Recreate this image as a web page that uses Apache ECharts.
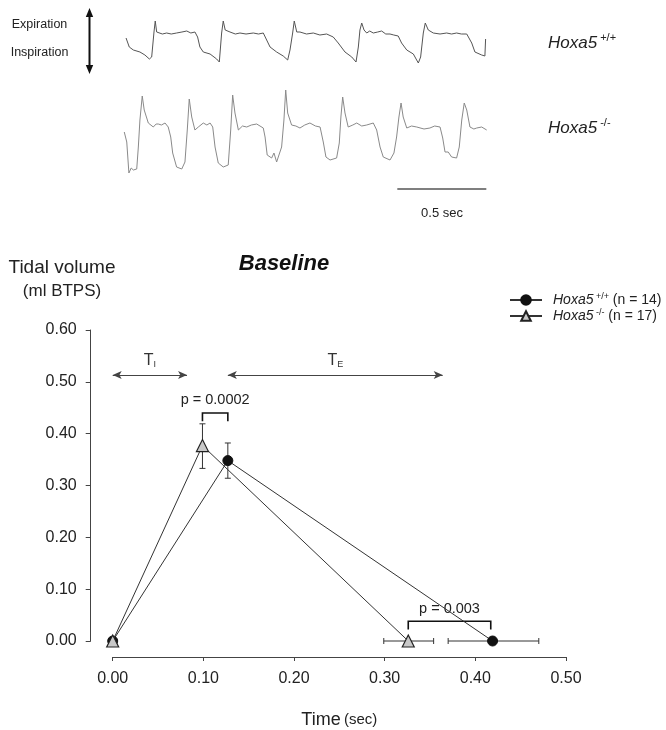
<!DOCTYPE html>
<html>
<head>
<meta charset="utf-8">
<script src="https://cdn.jsdelivr.net/npm/echarts@6/dist/echarts.min.js"></script>
<style>
  html, body { margin: 0; padding: 0; background: #fff; }
  #chart { width: 666px; height: 730px; }
</style>
</head>
<body>
<div id="chart"></div>
<script>
// plethysmograph traces, [time (s), amplitude (a.u.)]
const WT_TRACE = [
  [0.006, 172], [0.024, 163], [0.047, 160], [0.084, 158], [0.112, 155], [0.137, 151], [0.150, 153],
  [0.163, 178], [0.170, 189], [0.178, 178], [0.187, 177], [0.21, 176], [0.234, 177], [0.26, 176],
  [0.290, 177], [0.32, 178], [0.347, 179], [0.37, 177], [0.393, 178], [0.408, 173], [0.421, 163],
  [0.440, 158], [0.478, 156], [0.515, 151], [0.530, 148], [0.543, 177], [0.552, 189], [0.563, 180],
  [0.590, 178], [0.62, 176], [0.646, 177], [0.68, 176], [0.721, 177], [0.75, 176], [0.777, 177],
  [0.796, 170], [0.815, 163], [0.852, 158], [0.889, 154], [0.914, 150], [0.927, 160], [0.942, 177],
  [0.951, 189], [0.965, 178], [0.983, 178], [1.02, 176], [1.058, 177], [1.095, 175], [1.133, 176],
  [1.170, 173], [1.198, 167], [1.236, 158], [1.274, 153], [1.298, 148], [1.311, 163], [1.320, 180],
  [1.330, 187], [1.343, 180], [1.358, 177], [1.375, 179], [1.395, 177], [1.42, 178], [1.442, 179],
  [1.465, 176], [1.489, 176], [1.51, 175], [1.535, 174], [1.554, 167], [1.583, 160], [1.620, 156],
  [1.648, 147], [1.661, 153], [1.676, 177], [1.687, 187], [1.704, 180], [1.732, 177], [1.77, 176],
  [1.807, 177], [1.835, 176], [1.863, 177], [1.89, 176], [1.920, 176], [1.948, 167], [1.966, 158],
  [2.004, 155], [2.022, 154], [2.026, 171]
]
const KO_TRACE = [
  [-0.004, 78], [0.010, 68], [0.022, 37], [0.035, 42], [0.047, 40], [0.066, 41], [0.075, 63],
  [0.084, 90], [0.097, 114], [0.108, 100], [0.131, 87], [0.159, 83], [0.175, 86], [0.187, 86],
  [0.205, 85], [0.225, 87], [0.243, 83], [0.257, 73], [0.268, 57], [0.290, 43], [0.319, 41],
  [0.337, 48], [0.350, 80], [0.361, 111], [0.375, 93], [0.393, 80], [0.412, 83], [0.440, 87],
  [0.46, 85], [0.478, 87], [0.493, 83], [0.506, 63], [0.524, 47], [0.552, 43], [0.580, 45],
  [0.594, 80], [0.605, 115], [0.618, 97], [0.637, 80], [0.66, 84], [0.684, 83], [0.71, 85],
  [0.740, 86], [0.777, 82], [0.787, 73], [0.799, 55], [0.824, 52], [0.837, 57], [0.852, 48],
  [0.880, 63], [0.893, 90], [0.903, 120], [0.914, 97], [0.936, 85], [0.96, 84], [0.983, 82],
  [1.01, 85], [1.039, 87], [1.07, 84], [1.096, 83], [1.114, 68], [1.129, 53], [1.152, 50],
  [1.189, 52], [1.204, 67], [1.213, 93], [1.223, 113], [1.236, 97], [1.254, 83], [1.28, 85],
  [1.302, 87], [1.33, 84], [1.358, 85], [1.395, 87], [1.414, 80], [1.433, 63], [1.451, 53],
  [1.489, 50], [1.511, 57], [1.526, 73], [1.539, 93], [1.551, 107], [1.563, 93], [1.583, 82],
  [1.61, 84], [1.639, 83], [1.68, 81], [1.713, 82], [1.74, 84], [1.770, 83], [1.785, 72],
  [1.798, 58], [1.816, 58], [1.835, 53], [1.863, 52], [1.878, 63], [1.892, 90], [1.906, 107],
  [1.920, 100], [1.938, 83], [1.96, 81], [1.976, 82], [2.004, 83], [2.032, 80]
]
const SCALE_BAR = [[1.53, 21], [2.03, 21]]

// tidal volume vs time
const WT_TIME = [0, 0.127, 0.419]
const WT_VOL = [0, 0.348, 0]
const KO_TIME = [0, 0.099, 0.326]
const KO_VOL = [0, 0.377, 0]
// [time, low, high] -- vertical SE bars
const VOL_ERR = [[0.127, 0.314, 0.382], [0.099, 0.333, 0.419]]
// [volume, low, high] -- horizontal SE bars
const TIME_ERR = [[0, 0.370, 0.470], [0, 0.299, 0.354]]
// [x1, x2, bracket top, leg bottom, label]
const BRACKETS = [
  [0.099, 0.127, 0.440, 0.424, 'p = 0.0002'],
  [0.326, 0.417, 0.038, 0.022, 'p = 0.003'],
]
// [subscript, start, end] at the arrow level
const PHASES = [['I', 0.0, 0.082], ['E', 0.127, 0.364]]
const PHASE_Y = 0.513

const FONT = '"Liberation Sans", Arial, Helvetica, sans-serif'
const INK = '#222'

const chart = echarts.init(document.getElementById('chart'), null, { renderer: 'canvas' })

function vErr(params, api) {
  const a = api.coord([api.value(0), api.value(2)])
  const b = api.coord([api.value(0), api.value(1)])
  const c = 3
  const st = { stroke: '#333', lineWidth: 1 }
  return {
    type: 'group',
    children: [
      { type: 'line', shape: { x1: a[0], y1: a[1], x2: b[0], y2: b[1] }, style: st },
      { type: 'line', shape: { x1: a[0] - c, y1: a[1], x2: a[0] + c, y2: a[1] }, style: st },
      { type: 'line', shape: { x1: b[0] - c, y1: b[1], x2: b[0] + c, y2: b[1] }, style: st },
    ],
  }
}

function hErr(params, api) {
  const a = api.coord([api.value(1), api.value(0)])
  const b = api.coord([api.value(2), api.value(0)])
  const c = 3
  const st = { stroke: '#333', lineWidth: 1 }
  return {
    type: 'group',
    children: [
      { type: 'line', shape: { x1: a[0], y1: a[1], x2: b[0], y2: b[1] }, style: st },
      { type: 'line', shape: { x1: a[0], y1: a[1] - c, x2: a[0], y2: a[1] + c }, style: st },
      { type: 'line', shape: { x1: b[0], y1: b[1] - c, x2: b[0], y2: b[1] + c }, style: st },
    ],
  }
}

function bracket(params, api) {
  const br = BRACKETS[params.dataIndex]
  const p1 = api.coord([br[0], br[3]])
  const p2 = api.coord([br[0], br[2]])
  const p3 = api.coord([br[1], br[2]])
  const p4 = api.coord([br[1], br[3]])
  return {
    type: 'group',
    children: [
      {
        type: 'polyline',
        shape: { points: [p1, p2, p3, p4] },
        style: { stroke: '#111', lineWidth: 1.6, fill: null },
      },
      {
        type: 'text',
        x: (p2[0] + p3[0]) / 2,
        y: p2[1] - 5,
        style: {
          text: br[4], fill: INK, font: '14.5px ' + FONT,
          align: 'center', verticalAlign: 'bottom',
        },
      },
    ],
  }
}

const legendRich = {
  i: { fontStyle: 'italic', fontSize: 14, fontFamily: FONT, color: INK, lineHeight: 16, padding: [0, 0, 0, 6] },
  s: { fontSize: 9, fontFamily: FONT, color: INK, verticalAlign: 'top', lineHeight: 10 },
  n: { fontSize: 14, fontFamily: FONT, color: INK, lineHeight: 16 },
}

const supRich = {
  i: { fontSize: 17, fontStyle: 'italic', fontFamily: FONT, fill: INK, lineHeight: 22 },
  s: { fontSize: 11, fontFamily: FONT, fill: INK, verticalAlign: 'top', lineHeight: 13 },
}

const option = {
  backgroundColor: '#fff',
  animation: false,
  textStyle: { fontFamily: FONT },
  grid: [
    { left: 112.7, right: 100, top: 330, bottom: 82 },
    { left: 123.2, right: 177.9, top: 10, bottom: 520 },
  ],
  xAxis: [
    {
      gridIndex: 0, type: 'value', min: 0, max: 0.5, interval: 0.1,
      offset: 16,
      axisLine: { onZero: false, lineStyle: { color: '#444', width: 1 } },
      axisTick: { length: 4, lineStyle: { color: '#444' } },
      splitLine: { show: false },
      axisLabel: { color: INK, fontSize: 16, margin: 14, formatter: v => v.toFixed(2) },
      name: '{a|Time} {b|(sec)}',
      nameLocation: 'middle',
      nameGap: 54,
      nameTextStyle: {
        rich: {
          a: { fontSize: 18, color: INK, fontFamily: FONT },
          b: { fontSize: 15, color: INK, fontFamily: FONT },
        },
      },
    },
    { gridIndex: 1, type: 'value', min: -0.01, max: 2.04, show: false },
  ],
  yAxis: [
    {
      gridIndex: 0, type: 'value', min: 0, max: 0.6, interval: 0.1,
      offset: 22,
      axisLine: { show: true, onZero: false, lineStyle: { color: '#444', width: 1 } },
      axisTick: { show: true, length: 5, lineStyle: { color: '#444' } },
      splitLine: { show: false },
      axisLabel: { color: INK, fontSize: 16, margin: 14, formatter: v => v.toFixed(2) },
    },
    { gridIndex: 1, type: 'value', min: 0, max: 200, show: false },
  ],
  legend: {
    left: 504, top: 287, orient: 'vertical',
    itemWidth: 32, itemHeight: 12, itemGap: 1,
    data: ['Hoxa5 +/+ (n = 14)', 'Hoxa5 -/- (n = 17)'],
    formatter: name => {
      const m = name.match(/^Hoxa5 (\S+) (.*)$/)
      return '{i|Hoxa5}{s| ' + m[1] + '}{n| ' + m[2] + '}'
    },
    textStyle: { rich: legendRich },
  },
  series: [
    {
      name: 'wt trace', type: 'line', xAxisIndex: 1, yAxisIndex: 1,
      data: WT_TRACE, showSymbol: false, silent: true,
      lineStyle: { color: '#555', width: 1 },
    },
    {
      name: 'ko trace', type: 'line', xAxisIndex: 1, yAxisIndex: 1,
      data: KO_TRACE, showSymbol: false, silent: true,
      lineStyle: { color: '#8a8a8a', width: 1 },
    },
    {
      name: 'scale', type: 'line', xAxisIndex: 1, yAxisIndex: 1,
      data: SCALE_BAR, showSymbol: false, silent: true,
      lineStyle: { color: '#555', width: 1.5 },
    },
    {
      name: 'vol err', type: 'custom', renderItem: vErr, data: VOL_ERR,
      encode: { x: 0, y: [1, 2] }, silent: true, z: 1,
    },
    {
      name: 'time err', type: 'custom', renderItem: hErr, data: TIME_ERR,
      encode: { x: [1, 2], y: 0 }, silent: true, z: 1,
    },
    {
      name: 'brackets', type: 'custom', renderItem: bracket,
      data: BRACKETS.map(b => [b[0], b[2], b[1]]),
      encode: { x: [0, 2], y: 1 }, silent: true, z: 1,
    },
    {
      name: 'Hoxa5 +/+ (n = 14)', type: 'line',
      data: WT_TIME.map((t, i) => [t, WT_VOL[i]]),
      symbol: 'circle', symbolSize: 10,
      lineStyle: { color: '#333', width: 1 },
      itemStyle: { color: '#111', borderColor: '#111', borderWidth: 1 },
      z: 3,
      markLine: {
        silent: true,
        symbol: ['arrow', 'arrow'],
        symbolSize: [6, 9],
        lineStyle: { color: '#444', width: 1, type: 'solid' },
        label: {
          show: true, position: 'middle', distance: 6,
          formatter: p => '{t|T}{s|' + p.name + '}',
          rich: {
            t: { fontSize: 16, color: '#333', fontFamily: FONT, lineHeight: 18 },
            s: { fontSize: 9, color: '#333', fontFamily: FONT, verticalAlign: 'bottom', lineHeight: 10 },
          },
        },
        data: PHASES.map(p => [
          { name: p[0], coord: [p[1], PHASE_Y] },
          { coord: [p[2], PHASE_Y] },
        ]),
      },
    },
    {
      name: 'Hoxa5 -/- (n = 17)', type: 'line',
      data: KO_TIME.map((t, i) => [t, KO_VOL[i]]),
      symbol: 'triangle', symbolSize: 12,
      lineStyle: { color: '#333', width: 1 },
      itemStyle: { color: '#c8c8c8', borderColor: '#222', borderWidth: 1.2 },
      z: 4,
    },
  ],
  graphic: [
    // expiration / inspiration arrow
    { type: 'line', shape: { x1: 89.5, y1: 14, x2: 89.5, y2: 68 }, style: { stroke: '#111', lineWidth: 2 } },
    { type: 'polygon', shape: { points: [[89.5, 8], [85.8, 17], [93.2, 17]] }, style: { fill: '#111' } },
    { type: 'polygon', shape: { points: [[89.5, 74], [85.8, 65], [93.2, 65]] }, style: { fill: '#111' } },
    { type: 'text', x: 39.5, y: 25, style: { text: 'Expiration', font: '12.5px ' + FONT, fill: INK, align: 'center', verticalAlign: 'middle' } },
    { type: 'text', x: 39.5, y: 53, style: { text: 'Inspiration', font: '12.5px ' + FONT, fill: INK, align: 'center', verticalAlign: 'middle' } },
    { type: 'text', x: 548, y: 43, style: { text: '{i|Hoxa5}{s| +/+}', verticalAlign: 'middle', rich: supRich } },
    { type: 'text', x: 548, y: 128, style: { text: '{i|Hoxa5}{s| -/-}', verticalAlign: 'middle', rich: supRich } },
    { type: 'text', x: 442, y: 213, style: { text: '0.5 sec', font: '13px ' + FONT, fill: INK, align: 'center', verticalAlign: 'middle' } },
    { type: 'text', x: 62, y: 268, style: { text: 'Tidal volume', font: '19px ' + FONT, fill: INK, align: 'center', verticalAlign: 'middle' } },
    { type: 'text', x: 62, y: 291, style: { text: '(ml BTPS)', font: '17px ' + FONT, fill: INK, align: 'center', verticalAlign: 'middle' } },
    { type: 'text', x: 284, y: 264, style: { text: 'Baseline', font: 'italic bold 22px ' + FONT, fill: '#111', align: 'center', verticalAlign: 'middle' } },
  ],
}

chart.setOption(option)
</script>
</body>
</html>
